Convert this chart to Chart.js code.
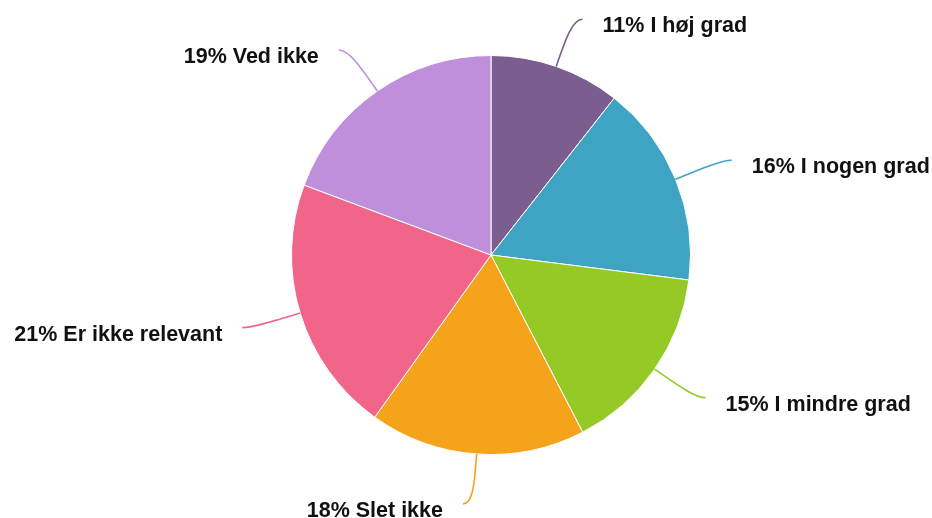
<!DOCTYPE html>
<html>
<head>
<meta charset="utf-8">
<script src="https://cdn.jsdelivr.net/npm/chart.js@4"></script>
<style>
  body { margin: 0; background: #fff; }
  #wrap { width: 932px; height: 518px; position: relative; }
</style>
</head>
<body>
<div id="wrap"><canvas id="myChart"></canvas></div>
<script>
const labels = ['I høj grad', 'I nogen grad', 'I mindre grad', 'Slet ikke', 'Er ikke relevant', 'Ved ikke'];
const values = [10.6, 16.4, 15.4, 17.5, 20.8, 19.3];
const colors = ['#7B5E8F', '#3FA3C4', '#95C926', '#F5A31B', '#F16588', '#BF8FDB'];

const total = values.reduce((a, b) => a + b, 0);

// leader lines + labels outside the pie
const outsideLabels = {
	id: 'outsideLabels',
	afterDatasetsDraw(chart) {
		const ctx = chart.ctx;
		const meta = chart.getDatasetMeta(0);
		ctx.save();
		meta.data.forEach((arc, i) => {
			const p = arc.getProps(['x', 'y', 'startAngle', 'endAngle', 'outerRadius'], true);
			const a = (p.startAngle + p.endAngle) / 2;
			const dx = Math.cos(a), dy = Math.sin(a);
			const side = dx >= 0 ? 1 : -1;
			const sx = p.x + dx * p.outerRadius, sy = p.y + dy * p.outerRadius;
			const ex = p.x + dx * (p.outerRadius + 50) + side * 10, ey = p.y + dy * (p.outerRadius + 50);
			ctx.beginPath();
			ctx.moveTo(sx, sy);
			ctx.bezierCurveTo(sx + dx * 30, sy + dy * 30, ex - side * 10, ey, ex, ey);
			ctx.strokeStyle = colors[i];
			ctx.lineWidth = 1.6;
			ctx.stroke();

			const pct = Math.round(values[i] / total * 100);
			ctx.font = 'bold 21.5px "Liberation Sans", Arial, sans-serif';
			ctx.fillStyle = '#111';
			ctx.textBaseline = 'middle';
			ctx.textAlign = side > 0 ? 'left' : 'right';
			ctx.fillText(pct + '% ' + labels[i], ex + side * 20, ey + 7);
		});
		ctx.restore();
	}
};

new Chart(document.getElementById('myChart'), {
	type: 'pie',
	data: {
		labels: labels,
		datasets: [{
			data: values,
			backgroundColor: colors,
			borderColor: '#fff',
			borderWidth: 1,
		}]
	},
	options: {
		responsive: true,
		maintainAspectRatio: false,
		animation: false,
		layout: { padding: { top: 55, bottom: 63, left: 291, right: 241 } },
		plugins: {
			legend: { display: false },
			tooltip: { enabled: false }
		}
	},
	plugins: [outsideLabels]
});
</script>
</body>
</html>
